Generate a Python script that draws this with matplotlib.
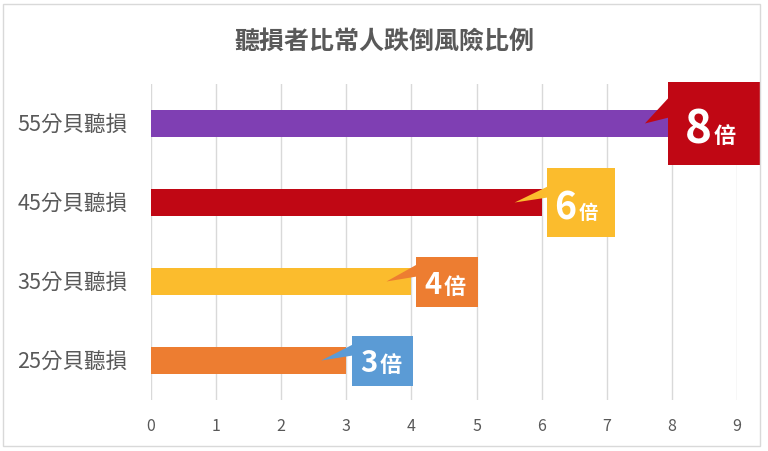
import matplotlib
matplotlib.use("Agg")
import matplotlib.pyplot as plt
from matplotlib.patches import Rectangle, Polygon

plt.rcParams['font.family'] = ['Noto Sans CJK TC', 'DejaVu Sans']

# datos
categorias = ["25分貝聽損", "35分貝聽損", "45分貝聽損", "55分貝聽損"]
valores = [3, 4, 6, 8]
etiquetas_num = ["3", "4", "6", "8"]
titulo = "聽損者比常人跌倒風險比例"

colores_barra = ["#ED7D31", "#FBBC2D", "#C00714", "#7F3FB3"]
colores_caja = ["#5B9BD5", "#ED7D31", "#FBBC2D", "#C00714"]

# estilo de las cajas (en pixeles): desplazamiento izq, ancho, alto, punta, base cola,
# tamanos fuente, ajuste horizontal del texto
estilo_caja = [
    (5.5, 61, 50, -25, (16, 5), 21, 16, -5),
    (4.5, 62, 50, -25, (17, 5), 21, 16, -5),
    (5.0, 68, 69, -27, (16, 5), 27, 14, -4),
    (-4.0, 92, 82, -27, (26, 6), 33, 16, -2),
]

fig = plt.figure(figsize=(7.68, 4.51), dpi=100)
ax = fig.add_axes([151 / 768, 1 - 400 / 451, 586 / 768, 316 / 451])

ypos = list(range(len(categorias)))
ax.barh(ypos, valores, height=0.35, color=colores_barra, zorder=2)

ax.set_xlim(0, 9)
ax.set_ylim(-0.5, 3.5)
ax.set_xticks(range(10))
ax.set_yticks(ypos)
ax.set_yticklabels(categorias, fontweight='light')
ax.tick_params(axis='y', length=0, pad=17, labelsize=15.5, labelcolor="#595959")
ax.tick_params(axis='x', length=0, pad=13, labelsize=11.5, labelcolor="#595959")
ax.grid(axis='x', color="#D9D9D9", linewidth=1, zorder=0)
for s in ax.spines.values():
    s.set_visible(False)

fig.text(0.5, 1 - 42 / 451, titulo, ha='center', va='center', fontsize=18,
         fontweight='bold', color="#595959")

# borde de la figura
fig.patches.append(Rectangle((3 / 768, 1 - 446 / 451), 757 / 768, 442 / 451,
                             transform=fig.transFigure, fill=False,
                             edgecolor="#D9D9D9", linewidth=1))

px_x = 9 / 586
px_y = 1 / 79

for i, v in enumerate(valores):
    dx, w, h, tip, base, fs_num, fs_bei, ajuste = estilo_caja[i]
    left = v + dx * px_x
    bw = w * px_x
    bh = h * px_y
    yc = ypos[i]
    caja = Rectangle((left, yc - bh / 2), bw, bh, facecolor=colores_caja[i],
                     edgecolor='none', zorder=4, clip_on=False)
    ax.add_patch(caja)
    cola = Polygon([(v + tip * px_x, yc), (left + 1 * px_x, yc + base[0] * px_y),
                    (left + 1 * px_x, yc + base[1] * px_y)],
                   closed=True, facecolor=colores_caja[i], edgecolor='none',
                   zorder=4, clip_on=False)
    ax.add_patch(cola)
    xm = left + bw / 2 + ajuste * px_x
    yb = yc - (h * 0.24) * px_y
    ax.text(xm, yb, etiquetas_num[i], ha='right', va='baseline', fontsize=fs_num,
            fontweight='bold', color='white', zorder=5, clip_on=False)
    ax.text(xm + 2 * px_x, yb, "倍", ha='left', va='baseline', fontsize=fs_bei,
            fontweight='bold', color='white', zorder=5, clip_on=False)

fig.savefig("out.png", dpi=100)
